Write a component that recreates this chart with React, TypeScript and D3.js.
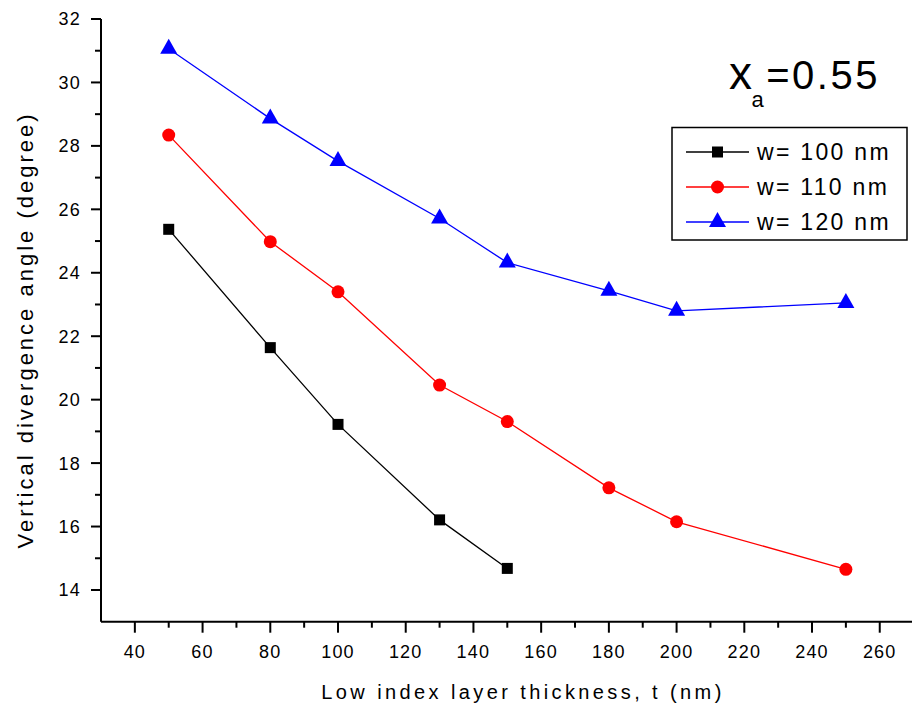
import React from 'react';
import * as d3 from 'd3';

// ---- data ----
const thickness100 = [50, 80, 100, 130, 150];
const angle100 = [25.37, 21.64, 19.22, 16.21, 14.68];
const thickness110 = [50, 80, 100, 130, 150, 180, 200, 250];
const angle110 = [28.34, 24.98, 23.4, 20.46, 19.31, 17.22, 16.15, 14.65];
const thickness120 = [50, 80, 100, 130, 150, 180, 200, 250];
const angle120 = [31.06, 28.86, 27.52, 25.71, 24.32, 23.43, 22.8, 23.05];
const seriesNames = ['w= 100 nm', 'w= 110 nm', 'w= 120 nm'];
const seriesColors = ['#000000', '#ff0000', '#0000ff'];
const seriesShapes = ['square', 'circle', 'triangle'];
const xTickValues = [40, 60, 80, 100, 120, 140, 160, 180, 200, 220, 240, 260];
const xMinorValues = [50, 70, 90, 110, 130, 150, 170, 190, 210, 230, 250];
const yTickValues = [14, 16, 18, 20, 22, 24, 26, 28, 30, 32];
const yMinorValues = [15, 17, 19, 21, 23, 25, 27, 29, 31];
const xLabel = 'Low index layer thickness, t (nm)';
const yLabel = 'Vertical divergence angle (degree)';

const W = 912;
const H = 713;
const FONT = '"Liberation Sans", Arial, sans-serif';

const x = d3.scaleLinear().domain([30, 270]).range([101, 913.6]);
const y = d3.scaleLinear().domain([13, 32]).range([621.7, 19]);

const series = [
  { xs: thickness100, ys: angle100 },
  { xs: thickness110, ys: angle110 },
  { xs: thickness120, ys: angle120 },
].map((s, i) => ({
  name: seriesNames[i],
  color: seriesColors[i],
  shape: seriesShapes[i],
  points: s.xs.map((v, j) => [v, s.ys[j]] as [number, number]),
}));

const line = d3
  .line<[number, number]>()
  .x((d) => x(d[0]))
  .y((d) => y(d[1]));

function Marker({ shape, cx, cy, color, scale = 1 }: { shape: string; cx: number; cy: number; color: string; scale?: number }) {
  if (shape === 'square') {
    const s = 11 * scale;
    return <rect x={cx - s / 2} y={cy - s / 2} width={s} height={s} fill={color} />;
  }
  if (shape === 'circle') {
    return <circle cx={cx} cy={cy} r={6.5 * scale} fill={color} />;
  }
  const hw = 8.5 * scale;
  const top = 10 * scale;
  const bot = 5 * scale;
  return <path d={`M${cx},${cy - top}L${cx + hw},${cy + bot}L${cx - hw},${cy + bot}Z`} fill={color} />;
}

export default function App() {
  const axisY = y(13);
  const axisX = x(30);
  return (
    <svg
      width={W}
      height={H}
      style={{ position: 'absolute', left: 0, top: 0, background: '#ffffff' }}
      fontFamily={FONT}
    >
      <rect x={0} y={0} width={W} height={H} fill="#ffffff" />

      {/* axes */}
      <line x1={axisX} y1={y(32)} x2={axisX} y2={axisY} stroke="#000" strokeWidth={2} />
      <line x1={axisX} y1={axisY} x2={W} y2={axisY} stroke="#000" strokeWidth={2} />

      {yTickValues.map((v) => (
        <g key={'yt' + v}>
          <line x1={axisX - 10} x2={axisX} y1={y(v)} y2={y(v)} stroke="#000" strokeWidth={2} />
          <text x={81} y={y(v)} dy="0.36em" textAnchor="end" fontSize={18} letterSpacing={1.2} fill="#000">
            {v}
          </text>
        </g>
      ))}
      {yMinorValues.map((v) => (
        <line key={'ym' + v} x1={axisX - 6} x2={axisX} y1={y(v)} y2={y(v)} stroke="#000" strokeWidth={2} />
      ))}
      {xTickValues.map((v) => (
        <g key={'xt' + v}>
          <line x1={x(v)} x2={x(v)} y1={axisY} y2={axisY + 11} stroke="#000" strokeWidth={2} />
          <text x={x(v)} y={658} textAnchor="middle" fontSize={18} letterSpacing={1.2} fill="#000">
            {v}
          </text>
        </g>
      ))}
      {xMinorValues.map((v) => (
        <line key={'xm' + v} x1={x(v)} x2={x(v)} y1={axisY} y2={axisY + 6} stroke="#000" strokeWidth={2} />
      ))}

      {/* axis titles */}
      <text x={523} y={699} textAnchor="middle" fontSize={20} letterSpacing={3.4} fill="#000">
        {xLabel}
      </text>
      <text
        transform={`translate(33, 330) rotate(-90)`}
        textAnchor="middle"
        fontSize={22}
        letterSpacing={3}
        fill="#000"
      >
        {yLabel}
      </text>

      {/* series */}
      {series.map((s) => (
        <g key={s.name}>
          <path d={line(s.points) || ''} fill="none" stroke={s.color} strokeWidth={1.3} />
          {s.points.map((p, j) => (
            <Marker key={j} shape={s.shape} cx={x(p[0])} cy={y(p[1])} color={s.color} />
          ))}
        </g>
      ))}

      {/* annotation */}
      <text x={729} y={89} fill="#000" fontSize={40} letterSpacing={2.5}>
        <tspan fontSize={46}>x</tspan>
        <tspan fontSize={22} dy={18} dx={-3}>a</tspan>
        <tspan dy={-18} dx={0}>=0.55</tspan>
      </text>

      {/* legend */}
      <rect x={672} y={127.5} width={235} height={112.5} fill="#fff" stroke="#000" strokeWidth={1.5} />
      {series.map((s, i) => {
        const ry = 152 + i * 35;
        return (
          <g key={'lg' + i}>
            <line x1={686} x2={749} y1={ry} y2={ry} stroke={s.color} strokeWidth={1.3} />
            <Marker shape={s.shape} cx={717.5} cy={ry} color={s.color} />
            <text x={757} y={ry} dy="0.36em" fontSize={23} letterSpacing={2.3} fill="#000">
              {s.name}
            </text>
          </g>
        );
      })}
    </svg>
  );
}
